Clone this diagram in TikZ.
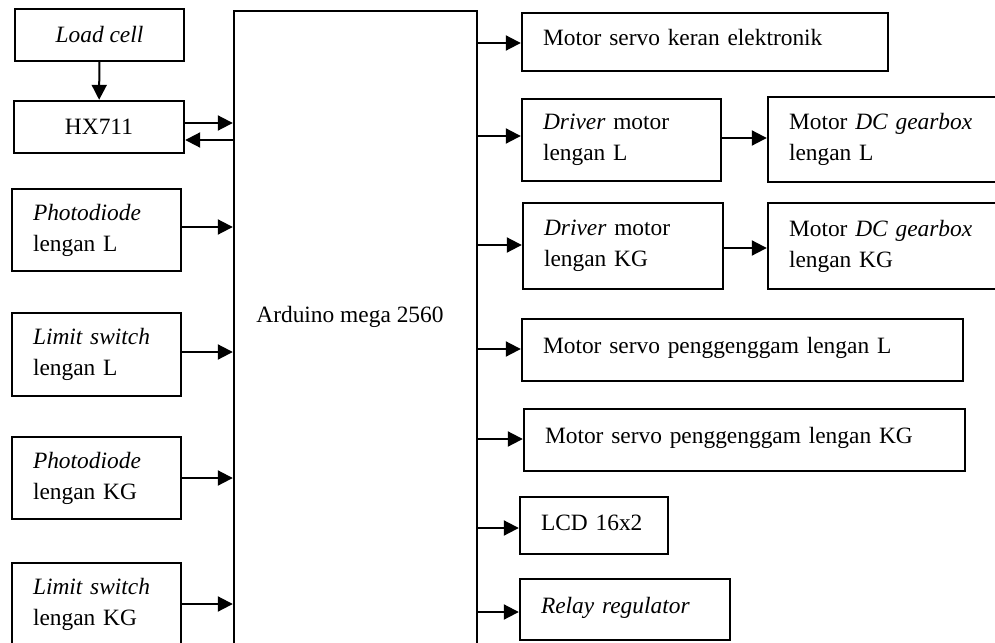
\documentclass[tikz,border=0pt]{standalone}
\usepackage{fontspec}
\setmainfont{Liberation Serif}
\usetikzlibrary{arrows.meta}
\newcommand{\fsz}{\fontsize{11.7}{15.5}\selectfont}
\tikzset{
  blk/.style={draw, line width=1.2pt, inner xsep=10.5pt, inner ysep=0pt, align=left, font=\fsz},
  oneline/.style={text depth=4.5pt},
  cblk/.style={draw, line width=1.2pt, inner sep=0pt, align=center, font=\fsz},
  arr/.style={line width=1pt, -{Triangle[length=7.5pt,width=7.5pt]}}
}
\begin{document}
\begin{tikzpicture}[x=0.5pt,y=-0.5pt]
\useasboundingbox (0,0) rectangle (995,642);
\clip (0,0) rectangle (995,642);
% left column
\node[cblk, minimum width=84.5pt, minimum height=26pt] (load) at (99.5,35) {\textit{Load cell}};
\node[cblk, minimum width=85pt, minimum height=26pt] (hx) at (99,127) {HX711};
\node[blk, text width=63.5pt, minimum height=41pt] (pdL) at (96.5,230) {\textit{Photodiode}\\lengan L};
\node[blk, text width=63.5pt, minimum height=41.5pt] (lsL) at (96.5,354.5) {\textit{Limit switch}\\lengan L};
\node[blk, text width=63.5pt, minimum height=41pt] (pdKG) at (96.5,478) {\textit{Photodiode}\\lengan KG};
\node[blk, text width=63.5pt, minimum height=41pt] (lsKG) at (96.5,604) {\textit{Limit switch}\\lengan KG};
% arduino
\node[draw, line width=1.2pt, minimum width=121.5pt, minimum height=354.5pt, inner sep=0pt] (ard) at (355.5,365.5) {};
\node[anchor=west, inner sep=0pt, font=\fsz] (ardt) at (256,317) {Arduino mega 2560};
% right column
\node[blk, oneline, text width=162pt, minimum height=29pt] (srvK) at (705,42) {Motor servo keran elektronik};
\node[blk, text width=78.5pt, minimum height=41pt] (drvL) at (621.5,140) {\textit{Driver} motor\\lengan L};
\node[blk, text width=100pt, minimum height=42.5pt] (dcL) at (889,139.5) {Motor \textit{DC gearbox}\\lengan L};
\node[blk, text width=79pt, minimum height=43pt] (drvKG) at (623,246) {\textit{Driver} motor\\lengan KG};
\node[blk, text width=100pt, minimum height=43pt] (dcKG) at (889,246) {Motor \textit{DC gearbox}\\lengan KG};
\node[blk, oneline, text width=199.5pt, minimum height=31pt] (pgL) at (742.5,350) {Motor servo penggenggam lengan L};
\node[blk, oneline, text width=199.5pt, minimum height=31pt] (pgKG) at (744.5,440) {Motor servo penggenggam lengan KG};
\node[blk, text depth=2.5pt, text width=53pt, minimum height=28.5pt] (lcd) at (594,525.5) {LCD 16x2};
\node[blk, oneline, text width=84pt, minimum height=30.5pt] (relay) at (625,609.5) {\textit{Relay regulator}};
% connectors
\draw[arr] (load) -- (hx);
\draw[arr] (hx.east |- 0,123) -- (ard.west |- 0,123);
\draw[arr] (ard.west |- 0,140) -- (hx.east |- 0,140);
\draw[arr] (pdL.east |- 0,227) -- (ard.west |- 0,227);
\draw[arr] (lsL.east |- 0,352) -- (ard.west |- 0,352);
\draw[arr] (pdKG.east |- 0,478) -- (ard.west |- 0,478);
\draw[arr] (lsKG.east |- 0,604) -- (ard.west |- 0,604);
\draw[arr] (ard.east |- 0,43) -- (srvK.west |- 0,43);
\draw[arr] (ard.east |- 0,136) -- (drvL.west |- 0,136);
\draw[arr] (ard.east |- 0,245) -- (drvKG.west |- 0,245);
\draw[arr] (ard.east |- 0,349) -- (pgL.west |- 0,349);
\draw[arr] (ard.east |- 0,439) -- (pgKG.west |- 0,439);
\draw[arr] (ard.east |- 0,528) -- (lcd.west |- 0,528);
\draw[arr] (ard.east |- 0,612) -- (relay.west |- 0,612);
\draw[arr] (drvL.east |- 0,138) -- (dcL.west |- 0,138);
\draw[arr] (drvKG.east |- 0,248) -- (dcKG.west |- 0,248);
\end{tikzpicture}
\end{document}
